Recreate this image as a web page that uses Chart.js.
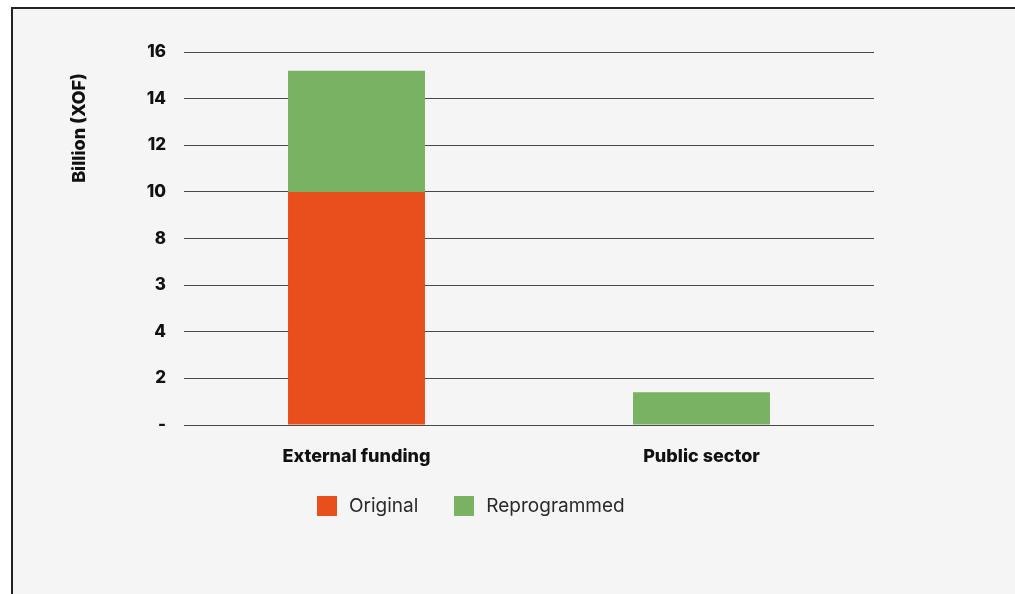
<!DOCTYPE html>
<html>
<head>
<meta charset="utf-8">
<script src="https://cdn.jsdelivr.net/npm/chart.js@4.4.1/dist/chart.umd.min.js"></script>
<style>
  html, body { margin: 0; padding: 0; background: #ffffff; width: 1015px; height: 594px; overflow: hidden; }
  #frame {
    position: absolute; left: 11px; top: 7px; width: 1100px; height: 700px;
    background: #f5f5f5; border-left: 2px solid #222; border-top: 2px solid #222;
  }
  #wrap { position: absolute; left: 0; top: 0; width: 1015px; height: 594px; }
  #legende {
    position: absolute; left: 317px; top: 494px; display: flex; align-items: center;
    font-family: Inter, "Noto Sans", sans-serif; font-size: 19px; color: #2a2a2a;
  }
  #legende .item { display: flex; align-items: center; margin-right: 36px; }
  #legende .carre { width: 20px; height: 20px; margin-right: 12px; }
</style>
</head>
<body>
<div id="frame"></div>
<div id="wrap"><canvas id="graficaFondos" width="1015" height="594"></canvas></div>
<div id="legende"></div>
<script>
const categorias = ['External funding', 'Public sector'];
const valoresOriginal = [10, 0];
const valoresReprogramado = [5.2, 1.4];
const etiquetasY = ['-', '2', '4', '3', '8', '10', '12', '14', '16'];

const colorOriginal = '#e94f1c';
const colorReprogramado = '#79b262';

// Título del eje Y, pegado a la parte alta del gráfico
const tituloEjeY = {
    id: 'tituloEjeY',
    afterDraw(chart) {
        const ctx = chart.ctx;
        ctx.save();
        ctx.translate(80, chart.chartArea.top + 76);
        ctx.rotate(-Math.PI / 2);
        ctx.font = '800 18px Inter, "Noto Sans", sans-serif';
        ctx.fillStyle = '#111';
        ctx.textAlign = 'center';
        ctx.textBaseline = 'middle';
        ctx.fillText('Billion (XOF)', 0, 0);
        ctx.restore();
    }
};

const canvas = document.getElementById('graficaFondos');
const grafica = new Chart(canvas.getContext('2d'), {
    type: 'bar',
    data: {
        labels: categorias,
        datasets: [
            {
                label: 'Original',
                data: valoresOriginal,
                backgroundColor: colorOriginal,
                categoryPercentage: 1,
                barPercentage: 0.397
            },
            {
                label: 'Reprogrammed',
                data: valoresReprogramado,
                backgroundColor: colorReprogramado,
                categoryPercentage: 1,
                barPercentage: 0.397
            }
        ]
    },
    options: {
        responsive: false,
        animation: false,
        layout: { padding: { left: 0, top: 52, right: 141, bottom: 119 } },
        plugins: {
            legend: { display: false },
            tooltip: { enabled: false }
        },
        scales: {
            x: {
                stacked: true,
                grid: { display: false },
                border: { display: false },
                afterFit: (scale) => { scale.height = 50; },
                ticks: {
                    padding: 13,
                    color: '#111',
                    font: { family: 'Inter, "Noto Sans", sans-serif', size: 18, weight: '800' }
                }
            },
            y: {
                stacked: true,
                min: 0,
                max: 16,
                border: { display: false },
                afterFit: (scale) => { scale.width = 184; },
                grid: { color: '#4a4a4a', lineWidth: 1, drawTicks: false },
                ticks: {
                    stepSize: 2,
                    padding: 18,
                    color: '#111',
                    font: { family: 'Inter, "Noto Sans", sans-serif', size: 17, weight: '800' },
                    callback: (v, i) => etiquetasY[i]
                }
            }
        }
    },
    plugins: [tituloEjeY]
});

// Leyenda en HTML a partir de los datasets
const leyenda = document.getElementById('legende');
grafica.data.datasets.forEach((ds) => {
    const item = document.createElement('div');
    item.className = 'item';
    const carre = document.createElement('div');
    carre.className = 'carre';
    carre.style.background = ds.backgroundColor;
    const texto = document.createElement('span');
    texto.textContent = ds.label;
    item.appendChild(carre);
    item.appendChild(texto);
    leyenda.appendChild(item);
});
</script>
</body>
</html>
